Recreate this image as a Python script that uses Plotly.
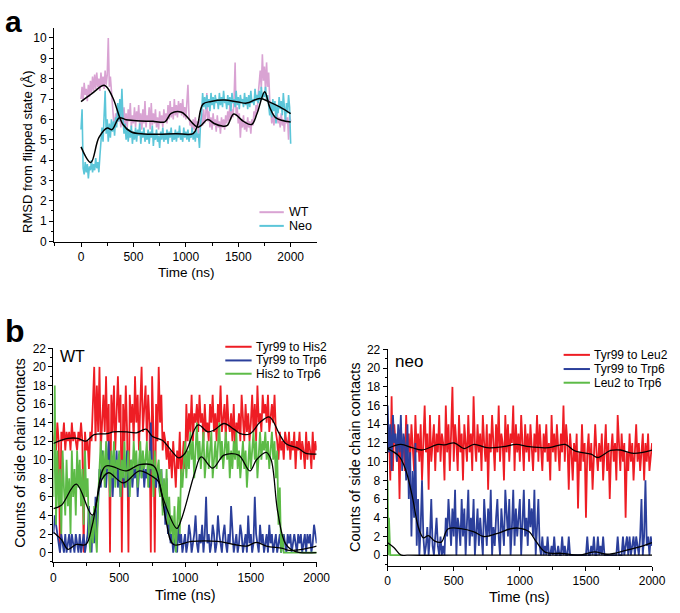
import plotly.graph_objects as go

# ---------------- Panel a data ----------------
time_a = list(range(0, 2001, 10))
rmsd_wt = [
    7.0, 7.6, 6.9, 7.8, 7.2, 7.5, 6.9, 7.7, 7.1, 7.9,
    7.3, 8.1, 7.4, 8.2, 7.5, 8.3, 7.6, 8.0, 7.4, 8.3,
    7.6, 8.1, 7.5, 8.4, 7.7, 8.2, 10.0, 7.6, 8.1, 7.3,
    6.4, 6.0, 5.6, 6.3, 5.8, 6.5, 5.9, 6.2, 5.6, 6.4,
    5.8, 6.6, 5.7, 6.3, 5.5, 6.5, 5.9, 6.8, 5.6, 6.2,
    5.8, 6.6, 5.6, 6.4, 5.9, 6.7, 5.7, 6.3, 5.5, 6.5,
    5.8, 6.9, 5.6, 6.2, 5.9, 6.6, 5.5, 6.8, 5.7, 6.3,
    5.8, 6.5, 5.6, 6.1, 5.5, 6.4, 5.8, 6.2, 5.6, 6.5,
    5.9, 6.3, 5.8, 6.7, 6.0, 6.9, 6.1, 6.6, 6.0, 7.0,
    6.2, 6.7, 6.1, 6.9, 6.3, 6.8, 6.2, 7.0, 6.1, 6.6,
    6.0, 6.8, 7.7, 6.2, 5.7, 5.9, 5.4, 6.0, 5.5, 6.1,
    5.6, 5.9, 5.3, 6.0, 5.6, 6.3, 5.7, 6.5, 5.8, 6.2,
    7.3, 5.9, 6.4, 5.6, 6.1, 5.5, 6.3, 5.7, 6.0, 5.4,
    6.2, 5.6, 5.9, 5.3, 6.1, 5.6, 6.0, 5.5, 6.2, 5.8,
    6.4, 5.9, 6.7, 6.0, 6.5, 6.1, 7.0, 8.8, 6.2, 6.6,
    5.8, 6.3, 5.1, 6.0, 5.6, 6.2, 5.5, 5.9, 5.4, 6.1,
    5.6, 5.9, 5.3, 6.0, 5.7, 6.4, 6.1, 6.7, 6.3, 7.2,
    7.8, 8.4, 7.5, 9.2, 7.9, 8.6, 7.4, 8.8, 7.6, 8.3,
    7.0, 6.1, 5.8, 6.3, 5.7, 6.2, 5.9, 6.4, 5.8, 6.1,
    5.6, 6.3, 5.7, 6.0, 5.4, 6.2, 5.8, 6.1, 5.0, 6.2,
    5.9,
]
rmsd_neo = [
    5.5, 6.5, 3.6, 3.3, 3.9, 3.4, 3.8, 3.1, 3.7, 3.5,
    4.0, 3.4, 3.8, 3.5, 4.1, 3.6, 3.9, 3.4, 4.2, 5.2,
    5.6, 4.9, 6.2, 7.4, 5.3, 6.0, 4.9, 5.8, 5.1, 6.0,
    5.4, 5.9, 5.2, 6.1, 5.6, 6.8, 5.9, 7.0, 6.1, 7.5,
    6.0, 5.3, 5.8, 5.0, 5.6, 4.9, 5.5, 5.1, 5.7, 4.8,
    5.4, 5.0, 5.6, 4.9, 5.5, 5.2, 5.8, 4.8, 5.4, 5.1,
    5.6, 4.9, 5.3, 5.0, 5.5, 4.8, 5.4, 5.1, 5.7, 4.7,
    5.3, 5.0, 5.5, 4.9, 5.2, 4.6, 5.4, 5.0, 5.6, 4.9,
    5.3, 5.0, 5.5, 4.8, 5.4, 5.1, 5.6, 4.9, 5.3, 5.0,
    5.5, 4.9, 5.4, 5.1, 5.7, 5.0, 5.3, 4.9, 5.6, 5.1,
    5.4, 5.0, 5.5, 4.9, 5.3, 5.1, 5.6, 5.0, 5.4, 4.9,
    5.5, 5.1, 5.3, 4.6, 5.8, 6.2, 7.3, 6.6, 7.1, 6.5,
    7.2, 6.6, 7.0, 6.4, 7.3, 6.7, 7.1, 6.5, 7.2, 6.8,
    7.0, 6.5, 7.3, 6.7, 7.1, 6.6, 7.4, 6.8, 7.0, 6.5,
    7.2, 6.7, 7.1, 6.4, 7.3, 6.8, 7.0, 6.6, 7.4, 6.7,
    7.1, 6.5, 7.2, 6.8, 7.0, 6.6, 7.3, 6.7, 7.1, 6.5,
    7.2, 6.6, 7.4, 6.8, 7.0, 6.7, 7.5, 6.9, 7.2, 6.8,
    7.4, 6.9, 7.6, 7.0, 7.3, 7.1, 7.6, 6.9, 7.2, 6.6,
    6.2, 6.8, 6.1, 7.0, 6.4, 6.9, 5.8, 6.7, 6.3, 7.1,
    6.5, 6.9, 6.2, 7.3, 6.4, 5.9, 6.8, 6.3, 7.2, 6.6,
    4.8,
]
smooth1_t = [0, 100, 225, 300, 400, 480, 600, 744, 900, 1070, 1110, 1163, 1240, 1364, 1500, 1581, 1705, 1800, 1900, 2000]
smooth1_v = [6.87, 7.25, 7.67, 7.1, 5.75, 5.38, 5.28, 5.27, 5.3, 5.3, 5.7, 6.75, 6.88, 6.95, 6.85, 6.8, 7.03, 6.85, 6.6, 6.28]
smooth2_t = [0, 93, 170, 250, 295, 365, 430, 500, 700, 800, 860, 960, 1116, 1209, 1270, 1349, 1395, 1457, 1550, 1628, 1680, 1752, 1800, 1860, 2000]
smooth2_v = [4.65, 3.88, 5.1, 5.58, 5.5, 6.08, 5.98, 5.95, 5.9, 5.88, 6.3, 6.35, 5.62, 5.99, 5.8, 5.67, 5.7, 6.26, 5.9, 5.75, 6.3, 7.36, 6.6, 6.07, 5.87]

# ---------------- Panel b data ----------------
time_b = list(range(0, 2001, 10))
wt_tyr_his = [
    12, 13, 11, 14, 12, 0, 13, 12, 14, 11,
    13, 12, 13, 11, 14, 12, 13, 12, 11, 13,
    12, 14, 12, 0, 13, 11, 12, 9, 13, 12,
    16, 20, 12, 18, 13, 20, 11, 15, 17, 13,
    19, 12, 16, 0, 17, 13, 18, 11, 15, 19,
    14, 17, 0, 16, 12, 18, 13, 0, 17, 14,
    16, 12, 19, 14, 17, 11, 16, 20, 13, 15,
    18, 12, 17, 14, 0, 19, 13, 0, 16, 12,
    20, 14, 17, 11, 13, 12, 10, 12, 9, 11,
    8, 12, 10, 7, 11, 9, 13, 8, 10, 12,
    9, 16, 12, 15, 13, 17, 12, 15, 14, 16,
    13, 17, 14, 15, 12, 16, 13, 14, 12, 16,
    14, 17, 13, 15, 12, 16, 14, 18, 13, 15,
    16, 12, 17, 14, 13, 15, 12, 16, 11, 14,
    13, 15, 12, 17, 14, 12, 16, 13, 15, 12,
    14, 17, 13, 16, 12, 18, 14, 15, 13, 17,
    15, 16, 14, 17, 13, 15, 16, 14, 17, 13,
    12, 10, 13, 11, 12, 10, 13, 12, 11, 13,
    10, 12, 11, 13, 9, 12, 11, 13, 10, 12,
    11, 9, 13, 10, 12, 11, 9, 13, 10, 12,
    11,
]
wt_tyr_trp = [
    2, 4, 3, 2, 1, 0, 2, 1, 0, 2,
    0, 1, 2, 0, 2, 1, 0, 2, 1, 0,
    2, 0, 1, 2, 0, 1, 2, 5, 3, 0,
    4, 1, 6, 2, 5, 9, 7, 11, 8, 10,
    7, 9, 12, 8, 10, 6, 9, 8, 11, 7,
    9, 6, 10, 8, 7, 9, 11, 6, 8, 10,
    7, 9, 8, 10, 6, 9, 11, 8, 10, 7,
    9, 8, 10, 7, 14, 9, 8, 10, 7, 9,
    8, 6, 9, 5, 7, 3, 8, 2, 4, 1,
    2, 0, 1, 2, 0, 3, 1, 2, 0, 1,
    2, 0, 1, 3, 2, 0, 1, 2, 4, 1,
    0, 2, 1, 3, 0, 2, 6, 1, 2, 0,
    1, 3, 2, 0, 1, 4, 2, 1, 0, 2,
    3, 1, 0, 2, 1, 5, 2, 0, 1, 2,
    0, 1, 3, 2, 0, 1, 2, 0, 4, 1,
    2, 0, 1, 6, 2, 1, 0, 3, 1, 2,
    0, 1, 2, 0, 3, 1, 2, 0, 1, 2,
    0, 1, 2, 0, 1, 2, 1, 0, 2, 1,
    2, 0, 1, 2, 1, 0, 2, 1, 2, 0,
    1, 2, 0, 2, 1, 2, 0, 1, 3, 2,
    1,
]
wt_his_trp = [
    6, 18, 3, 11, 5, 9, 2, 11, 7, 4,
    10, 5, 8, 2, 11, 6, 9, 4, 11, 7,
    10, 5, 9, 3, 11, 6, 8, 2, 0, 4,
    1, 5, 2, 0, 6, 10, 12, 8, 11, 7,
    12, 9, 10, 6, 11, 8, 12, 7, 10, 9,
    11, 6, 10, 8, 12, 7, 9, 11, 6, 10,
    8, 12, 9, 11, 7, 10, 12, 8, 11, 9,
    10, 12, 7, 11, 9, 10, 6, 11, 8, 9,
    10, 6, 9, 4, 8, 5, 9, 3, 6, 2,
    4, 1, 5, 0, 3, 6, 2, 9, 7, 10,
    12, 8, 11, 9, 13, 10, 12, 8, 11, 14,
    10, 12, 9, 11, 13, 8, 10, 12, 9, 11,
    13, 8, 10, 12, 9, 11, 14, 10, 12, 9,
    11, 13, 10, 12, 8, 11, 9, 12, 10, 13,
    9, 11, 8, 10, 12, 9, 11, 7, 10, 12,
    9, 11, 13, 10, 12, 8, 11, 13, 10, 12,
    11, 13, 10, 12, 9, 11, 13, 10, 12, 8,
    11, 3, 7, 0, 2, 0, 0, 0, 0, 0,
    0, 0, 0, 0, 0, 0, 0, 0, 0, 0,
    0, 0, 0, 0, 0, 0, 0, 0, 0, 0,
    0,
]
wt_red_sm_t = [0, 61, 111, 185, 247, 309, 407, 457, 556, 630, 704, 753, 827, 901, 951, 1000, 1099, 1173, 1222, 1296, 1370, 1420, 1494, 1568, 1642, 1716, 1765, 1864, 1914, 2000]
wt_red_sm_v = [11.75, 12.1, 12.3, 12.3, 12.0, 12.7, 12.8, 13.0, 13.0, 12.9, 13.3, 12.5, 12.1, 10.9, 10.2, 10.7, 13.75, 13.0, 13.2, 13.9, 13.3, 12.8, 12.8, 14.0, 14.6, 12.8, 11.75, 11.2, 10.7, 10.6]
wt_blue_sm_t = [0, 61, 111, 173, 247, 296, 370, 420, 531, 654, 740, 800, 852, 913, 1049, 1247, 1370, 1469, 1543, 1617, 1741, 1790, 1889, 2000]
wt_blue_sm_v = [2.2, 1.4, 0.35, 0.87, 0.87, 3.0, 7.9, 8.6, 7.5, 8.8, 8.3, 7.6, 3.7, 0.87, 1.2, 1.2, 0.87, 0.7, 1.1, 0.7, 0.45, 0.24, 0.35, 0.7]
wt_green_sm_t = [0, 61, 173, 296, 395, 555, 654, 765, 827, 938, 975, 1074, 1123, 1210, 1296, 1407, 1493, 1543, 1617, 1654, 1704, 1765, 1839, 2000]
wt_green_sm_v = [4.74, 5.1, 7.37, 4.03, 9.3, 8.8, 9.47, 9.3, 6.1, 2.6, 3.7, 8.6, 10.3, 9.1, 10.5, 10.5, 8.8, 10.0, 10.8, 10.0, 4.4, 0.9, 0.1, 0.0]

neo_tyr_leu = [
    11, 13, 8, 17, 9, 14, 12, 10, 13, 6,
    14, 11, 12, 9, 15, 11, 13, 10, 14, 12,
    9, 15, 11, 13, 10, 14, 8, 12, 16, 11,
    13, 7, 15, 10, 12, 14, 9, 13, 11, 15,
    10, 13, 12, 8, 16, 11, 14, 9, 13, 18,
    10, 14, 12, 9, 15, 11, 13, 8, 14, 12,
    10, 15, 11, 13, 9, 17, 12, 10, 14, 11,
    13, 9, 15, 12, 10, 14, 7, 13, 11, 15,
    12, 9, 14, 11, 16, 10, 13, 12, 8, 15,
    11, 14, 10, 13, 12, 16, 9, 14, 11, 13,
    10, 15, 12, 9, 14, 11, 13, 10, 14, 12,
    9, 13, 11, 15, 10, 14, 12, 9, 13, 11,
    14, 10, 12, 8, 15, 11, 13, 10, 14, 12,
    9, 13, 11, 16, 10, 14, 12, 7, 13, 11,
    8, 12, 10, 13, 5, 11, 9, 14, 10, 12,
    4, 11, 13, 9, 12, 7, 10, 14, 11, 9,
    12, 10, 13, 8, 11, 14, 9, 12, 6, 11,
    13, 10, 12, 8, 15, 11, 9, 13, 10, 12,
    4, 11, 9, 13, 10, 12, 8, 11, 14, 10,
    12, 9, 11, 13, 8, 12, 10, 13, 9, 11,
    12,
]
neo_tyr_trp = [
    16, 11, 14, 9, 15, 12, 13, 10, 14, 11,
    15, 9, 13, 12, 8, 14, 6, 11, 2, 9,
    4, 12, 1, 6, 0, 3, 8, 2, 0, 1,
    3, 0, 2, 6, 1, 0, 2, 4, 1, 0,
    2, 0, 1, 0, 4, 2, 6, 3, 1, 5,
    2, 7, 0, 4, 3, 1, 6, 2, 5, 0,
    3, 7, 1, 4, 2, 6, 0, 3, 5, 1,
    4, 2, 0, 6, 3, 1, 5, 2, 7, 0,
    3, 1, 4, 6, 2, 0, 5, 3, 1, 7,
    4, 2, 6, 0, 3, 7, 1, 5, 2, 4,
    6, 0, 3, 7, 2, 4, 1, 6, 3, 5,
    2, 7, 0, 4, 6, 1, 0, 2, 0, 1,
    0, 2, 0, 0, 1, 0, 2, 0, 0, 1,
    0, 0, 2, 0, 1, 0, 0, 2, 0, 0,
    0, 0, 0, 0, 0, 0, 0, 0, 0, 0,
    0, 2, 0, 0, 1, 0, 2, 0, 0, 2,
    0, 1, 0, 2, 0, 0, 0, 0, 0, 0,
    0, 0, 0, 0, 2, 0, 0, 0, 2, 0,
    1, 2, 0, 2, 0, 1, 2, 0, 2, 1,
    0, 2, 6, 0, 2, 8, 1, 2, 0, 2,
    1,
]
neo_leu_trp_t = [0, 5, 10, 20, 30, 40, 50, 60, 70, 80, 90, 100]
neo_leu_trp = [8, 0, 4, 0, 0, 0, 0, 0, 0, 0, 0, 0]
neo_red_sm_t = [0, 99, 185, 259, 382, 431, 505, 579, 653, 751, 874, 973, 1071, 1219, 1342, 1416, 1539, 1589, 1687, 1761, 1860, 2000]
neo_red_sm_v = [11.4, 11.85, 11.5, 11.25, 11.85, 11.8, 12.0, 11.4, 11.85, 11.5, 11.6, 11.85, 11.6, 11.5, 11.85, 11.15, 10.8, 10.45, 11.2, 11.25, 10.9, 11.25]
neo_blue_sm_t = [0, 86, 135, 185, 234, 271, 308, 357, 406, 456, 554, 653, 726, 825, 924, 985, 1071, 1121, 1195, 1318, 1441, 1564, 1662, 1786, 1884, 2000]
neo_blue_sm_v = [11.4, 10.6, 9.2, 6.4, 2.9, 1.85, 2.1, 1.5, 1.4, 2.8, 2.85, 2.5, 2.0, 2.3, 2.8, 2.9, 2.5, 1.5, 0.3, 0.2, 0.0, 0.35, 0.1, 0.45, 0.8, 1.35]
neo_green_sm_t = [0, 49, 99, 150, 500, 1000, 1500, 2000]
neo_green_sm_v = [1.33, 0.8, 0.03, 0.0, 0.0, 0.0, 0.0, 0.0]

legend_a = ["WT", "Neo"]
legend_wt = ["Tyr99 to His2", "Tyr99 to Trp6", "His2 to Trp6"]
legend_neo = ["Tyr99 to Leu2", "Tyr99 to Trp6", "Leu2 to Trp6"]

PINK = "#D9A3D3"
CYAN = "#5CC6D9"
RED = "#EE1D24"
BLUE = "#2B3F9B"
GREEN = "#5DBB47"
FONT = "Arial, Liberation Sans, sans-serif"

fig = go.Figure()

def add(x, y, color, name=None, xa="x", ya="y", width=1.25, smooth=False):
    fig.add_trace(go.Scatter(
        x=x, y=y, mode="lines", name=name or "",
        line=dict(color=color, width=width, shape="spline" if smooth else "linear"),
        xaxis=xa, yaxis=ya, showlegend=False, hoverinfo="skip"))

# Panel a
add(time_a, rmsd_wt, PINK, legend_a[0], "x", "y", width=1.6)
add(time_a, rmsd_neo, CYAN, legend_a[1], "x", "y", width=1.6)
add(smooth1_t, smooth1_v, "black", None, "x", "y", width=1.5, smooth=True)
add(smooth2_t, smooth2_v, "black", None, "x", "y", width=1.5, smooth=True)

# Panel b WT
add(time_b, wt_tyr_his, RED, legend_wt[0], "x2", "y2", width=1.8)
add(time_b, wt_tyr_trp, BLUE, legend_wt[1], "x2", "y2", width=1.8)
add(time_b, wt_his_trp, GREEN, legend_wt[2], "x2", "y2", width=1.8)
add(wt_red_sm_t, wt_red_sm_v, "black", None, "x2", "y2", width=1.3, smooth=True)
add(wt_green_sm_t, wt_green_sm_v, "black", None, "x2", "y2", width=1.3, smooth=True)
add(wt_blue_sm_t, wt_blue_sm_v, "black", None, "x2", "y2", width=1.3, smooth=True)

# Panel b neo
add(time_b, neo_tyr_leu, RED, legend_neo[0], "x3", "y3", width=1.8)
add(time_b, neo_tyr_trp, BLUE, legend_neo[1], "x3", "y3", width=1.8)
add(neo_leu_trp_t, neo_leu_trp, GREEN, legend_neo[2], "x3", "y3", width=1.8)
add(neo_red_sm_t, neo_red_sm_v, "black", None, "x3", "y3", width=1.3, smooth=True)
add(neo_blue_sm_t, neo_blue_sm_v, "black", None, "x3", "y3", width=1.3, smooth=True)
add(neo_green_sm_t, neo_green_sm_v, "black", None, "x3", "y3", width=1.3, smooth=True)

W, H = 680, 613
def px(x):
    return x / W
def py(y):
    return 1 - y / H

axis_common = dict(showline=True, linecolor="black", linewidth=1, ticks="outside",
                   ticklen=4, tickwidth=1, tickcolor="black", showgrid=False, zeroline=False,
                   tickfont=dict(family=FONT, size=12, color="black"))

fig.update_layout(
    width=W, height=H, margin=dict(l=0, r=0, t=0, b=0),
    paper_bgcolor="white", plot_bgcolor="white",
    font=dict(family=FONT, color="black"), showlegend=False,
    xaxis=dict(domain=[px(52.3), px(321.7)], range=[-258, 2248], anchor="y",
               tickvals=[0, 500, 1000, 1500, 2000],
               minor=dict(tickvals=[-250, 250, 750, 1250, 1750, 2250], ticks="outside", ticklen=3, tickcolor="black"),
               **axis_common),
    yaxis=dict(domain=[py(240), py(21.7)], range=[0, 10.48], anchor="x", dtick=1,
               minor=dict(dtick=0.5, ticks="outside", ticklen=2, tickcolor="black"),
               **axis_common),
    xaxis2=dict(domain=[px(51.7), px(321.7)], range=[0, 2000], anchor="y2", dtick=500,
                minor=dict(dtick=250, ticks="outside", ticklen=3, tickcolor="black"),
                **axis_common),
    yaxis2=dict(domain=[py(568.3), py(349.3)], range=[-1.05, 22], anchor="x2", dtick=2, tick0=0,
                minor=dict(dtick=1, ticks="outside", ticklen=2, tickcolor="black"),
                **axis_common),
    xaxis3=dict(domain=[px(394.5), px(665.7)], range=[0, 2000], anchor="y3", dtick=500,
                minor=dict(dtick=250, ticks="outside", ticklen=3, tickcolor="black"),
                **axis_common),
    yaxis3=dict(domain=[py(572), py(350.5)], range=[-1.15, 22], anchor="x3", dtick=2, tick0=0,
                minor=dict(dtick=1, ticks="outside", ticklen=2, tickcolor="black"),
                **axis_common),
)

ann = [
    dict(text="<b>a</b>", x=px(0), y=py(-4), xanchor="left", yanchor="top", font=dict(size=30)),
    dict(text="<b>b</b>", x=px(0), y=py(311), xanchor="left", yanchor="top", font=dict(size=32)),
    dict(text="Time (ns)", x=px(188), y=py(272), xanchor="center", yanchor="middle", font=dict(size=13.5)),
    dict(text="RMSD from flipped state (Å)", x=px(25), y=py(148), xanchor="center", yanchor="middle",
         textangle=-90, font=dict(size=13)),
    dict(text="Time (ns)", x=px(187), y=py(602), xanchor="center", yanchor="middle", font=dict(size=14.5)),
    dict(text="Counts of side chain contacts", x=px(17.5), y=py(457), xanchor="center", yanchor="middle",
         textangle=-90, font=dict(size=14.5)),
    dict(text="Time (ns)", x=px(530), y=py(604), xanchor="center", yanchor="middle", font=dict(size=14.5)),
    dict(text="Counts of side chain contacts", x=px(361.5), y=py(461), xanchor="center", yanchor="middle",
         textangle=-90, font=dict(size=14.5)),
    dict(text="WT", x=px(56), y=py(358), xanchor="left", yanchor="middle", font=dict(size=16)),
    dict(text="neo", x=px(400), y=py(363), xanchor="left", yanchor="middle", font=dict(size=17)),
]

shapes = []
def legend_block(labels, colors, x0, x1, xt, ys, size):
    for lab, col, yy in zip(labels, colors, ys):
        shapes.append(dict(type="line", xref="paper", yref="paper", x0=px(x0), x1=px(x1),
                           y0=py(yy), y1=py(yy), line=dict(color=col, width=2)))
        ann.append(dict(text=lab, x=px(xt), y=py(yy), xanchor="left", yanchor="middle",
                        font=dict(size=size)))

legend_block(legend_a, [PINK, CYAN], 263, 288, 291, [210, 224], 12.5)
legend_block(legend_wt, [RED, BLUE, GREEN], 228, 255, 257, [347.7, 361.7, 375.3], 12)
legend_block(legend_neo, [RED, BLUE, GREEN], 575, 602, 604, [356, 370.5, 384.5], 12)

for a in ann:
    a.update(xref="paper", yref="paper", showarrow=False)
    a["font"] = dict(family=FONT, color="black", **a["font"])
fig.update_layout(annotations=ann, shapes=shapes)

fig.write_html("out.html", config={"displayModeBar": False},
               post_script="document.body.style.margin='0px';")
